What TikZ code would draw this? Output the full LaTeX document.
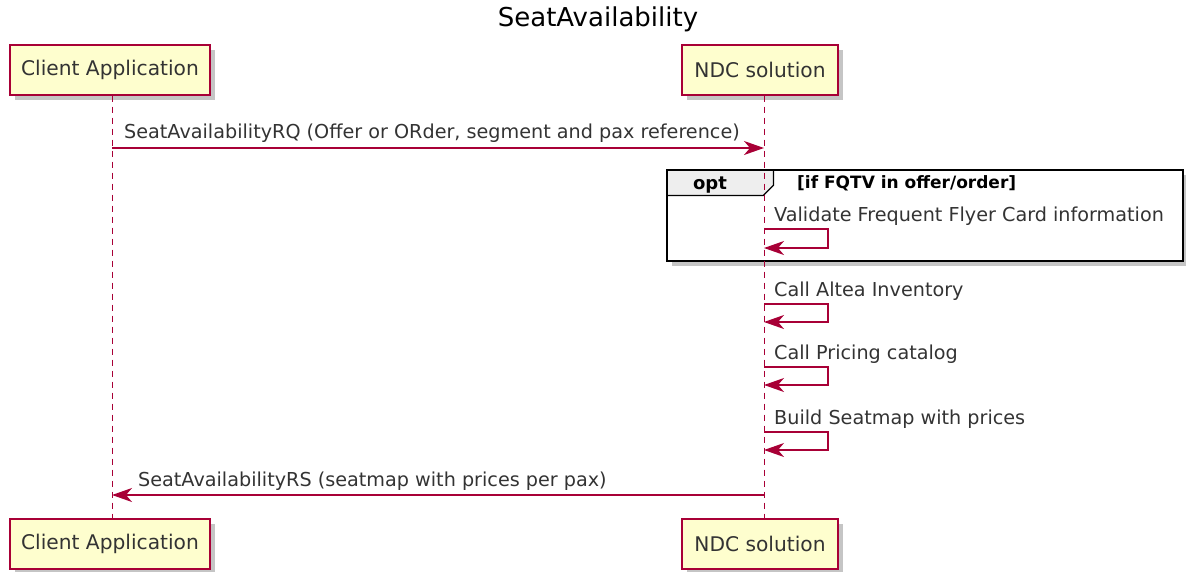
\documentclass[tikz,border=0pt]{standalone}
\usepackage{fontspec}
\setmainfont{DejaVu Sans}
\usetikzlibrary{arrows.meta,shadows,calc}
\definecolor{pborder}{HTML}{A80036}
\definecolor{pfill}{HTML}{FEFECE}
\definecolor{ptext}{HTML}{333333}
\definecolor{hfill}{HTML}{EEEEEE}
\tikzset{
  part/.style={draw=pborder, fill=pfill, line width=1.4pt, minimum height=50pt, inner xsep=0pt,
    font=\fontsize{20.2}{24}\selectfont, text=ptext,
    drop shadow={shadow xshift=5pt, shadow yshift=-5pt, fill=black!45, opacity=0.5}},
  life/.style={draw=pborder, line width=1pt, dash pattern=on 6pt off 5pt},
  msg/.style={draw=pborder, line width=1.2pt, -{Stealth[inset=6pt,length=20pt,width=14pt]}},
  lbl/.style={font=\fontsize{19.2}{22}\selectfont, text=ptext, anchor=base west, inner sep=0pt},
}
\begin{document}
\begin{tikzpicture}[x=1pt,y=-1pt]
\useasboundingbox (0,0) rectangle (1186,571);
\node[font=\fontsize{26}{30}\selectfont] (title) at (598,19) {SeatAvailability};
% participants
\node[part, minimum width=200pt] (ca) at (110,70) {Client Application};
\node[part, minimum width=156pt] (nd) at (760,70) {NDC solution};
\node[part, minimum width=200pt] (cab) at (110,544) {Client Application};
\node[part, minimum width=156pt] (ndb) at (760,544) {NDC solution};
% opt frame (behind lifelines)
\coordinate (fa) at (667,170);
\coordinate (fb) at (1183,261);
\fill[black!45, opacity=0.5] ($(fa)+(5,5)$) rectangle ($(fb)+(5,5)$);
\fill[white] (fa) rectangle (fb);
\node[anchor=north west, inner sep=0pt, minimum width=106pt, minimum height=25pt] (opttab) at (fa) {};
\fill[hfill] (opttab.north west) -- (opttab.north east) -- ($(opttab.south east)+(0,-10)$) -- ($(opttab.south east)+(-10,0)$) -- (opttab.south west) -- cycle;
\draw[line width=1.2pt] (opttab.north east) -- ($(opttab.south east)+(0,-10)$) -- ($(opttab.south east)+(-10,0)$) -- (opttab.south west);
\draw[line width=2.6pt] (fa) rectangle (fb);
\node[font=\bfseries\fontsize{18}{21}\selectfont, anchor=base] (opt) at (710,189) {opt};
\node[font=\bfseries\fontsize{17}{20}\selectfont, anchor=base west, inner sep=0pt] (cond) at (797,188) {[if FQTV in offer/order]};
% lifelines
\coordinate (cl) at (112,95);
\coordinate (nl) at (764,95);
\draw[life] (ca.south -| cl) -- (cab.north -| cl);
\draw[life] (nd.south -| nl) -- (ndb.north -| nl);
% message 1
\coordinate (m1a) at (112,148);
\coordinate (m1b) at (764,148);
\draw[msg] (m1a) -- (m1b);
\node[lbl] (l1) at (124,138) {SeatAvailabilityRQ (Offer or ORder, segment and pax reference)};
% self messages
\foreach \name/\ya/\yb/\txt in {s1/229/248/{Validate Frequent Flyer Card information}, s2/304/322/{Call Altea Inventory}, s3/367/385/{Call Pricing catalog}, s4/432/450/{Build Seatmap with prices}}{
  \coordinate (\name a) at (764,\ya);
  \coordinate (\name b) at (764,\yb);
  \draw[msg] (\name a) -- ++(64,0) |- (\name b);
  \node[lbl] (\name l) at (774,\ya-8) {\txt};
}
% return
\coordinate (m2a) at (764,495);
\coordinate (m2b) at (112,495);
\draw[msg] (m2a) -- (m2b);
\node[lbl] (l2) at (138,486) {SeatAvailabilityRS (seatmap with prices per pax)};
\end{tikzpicture}
\end{document}
